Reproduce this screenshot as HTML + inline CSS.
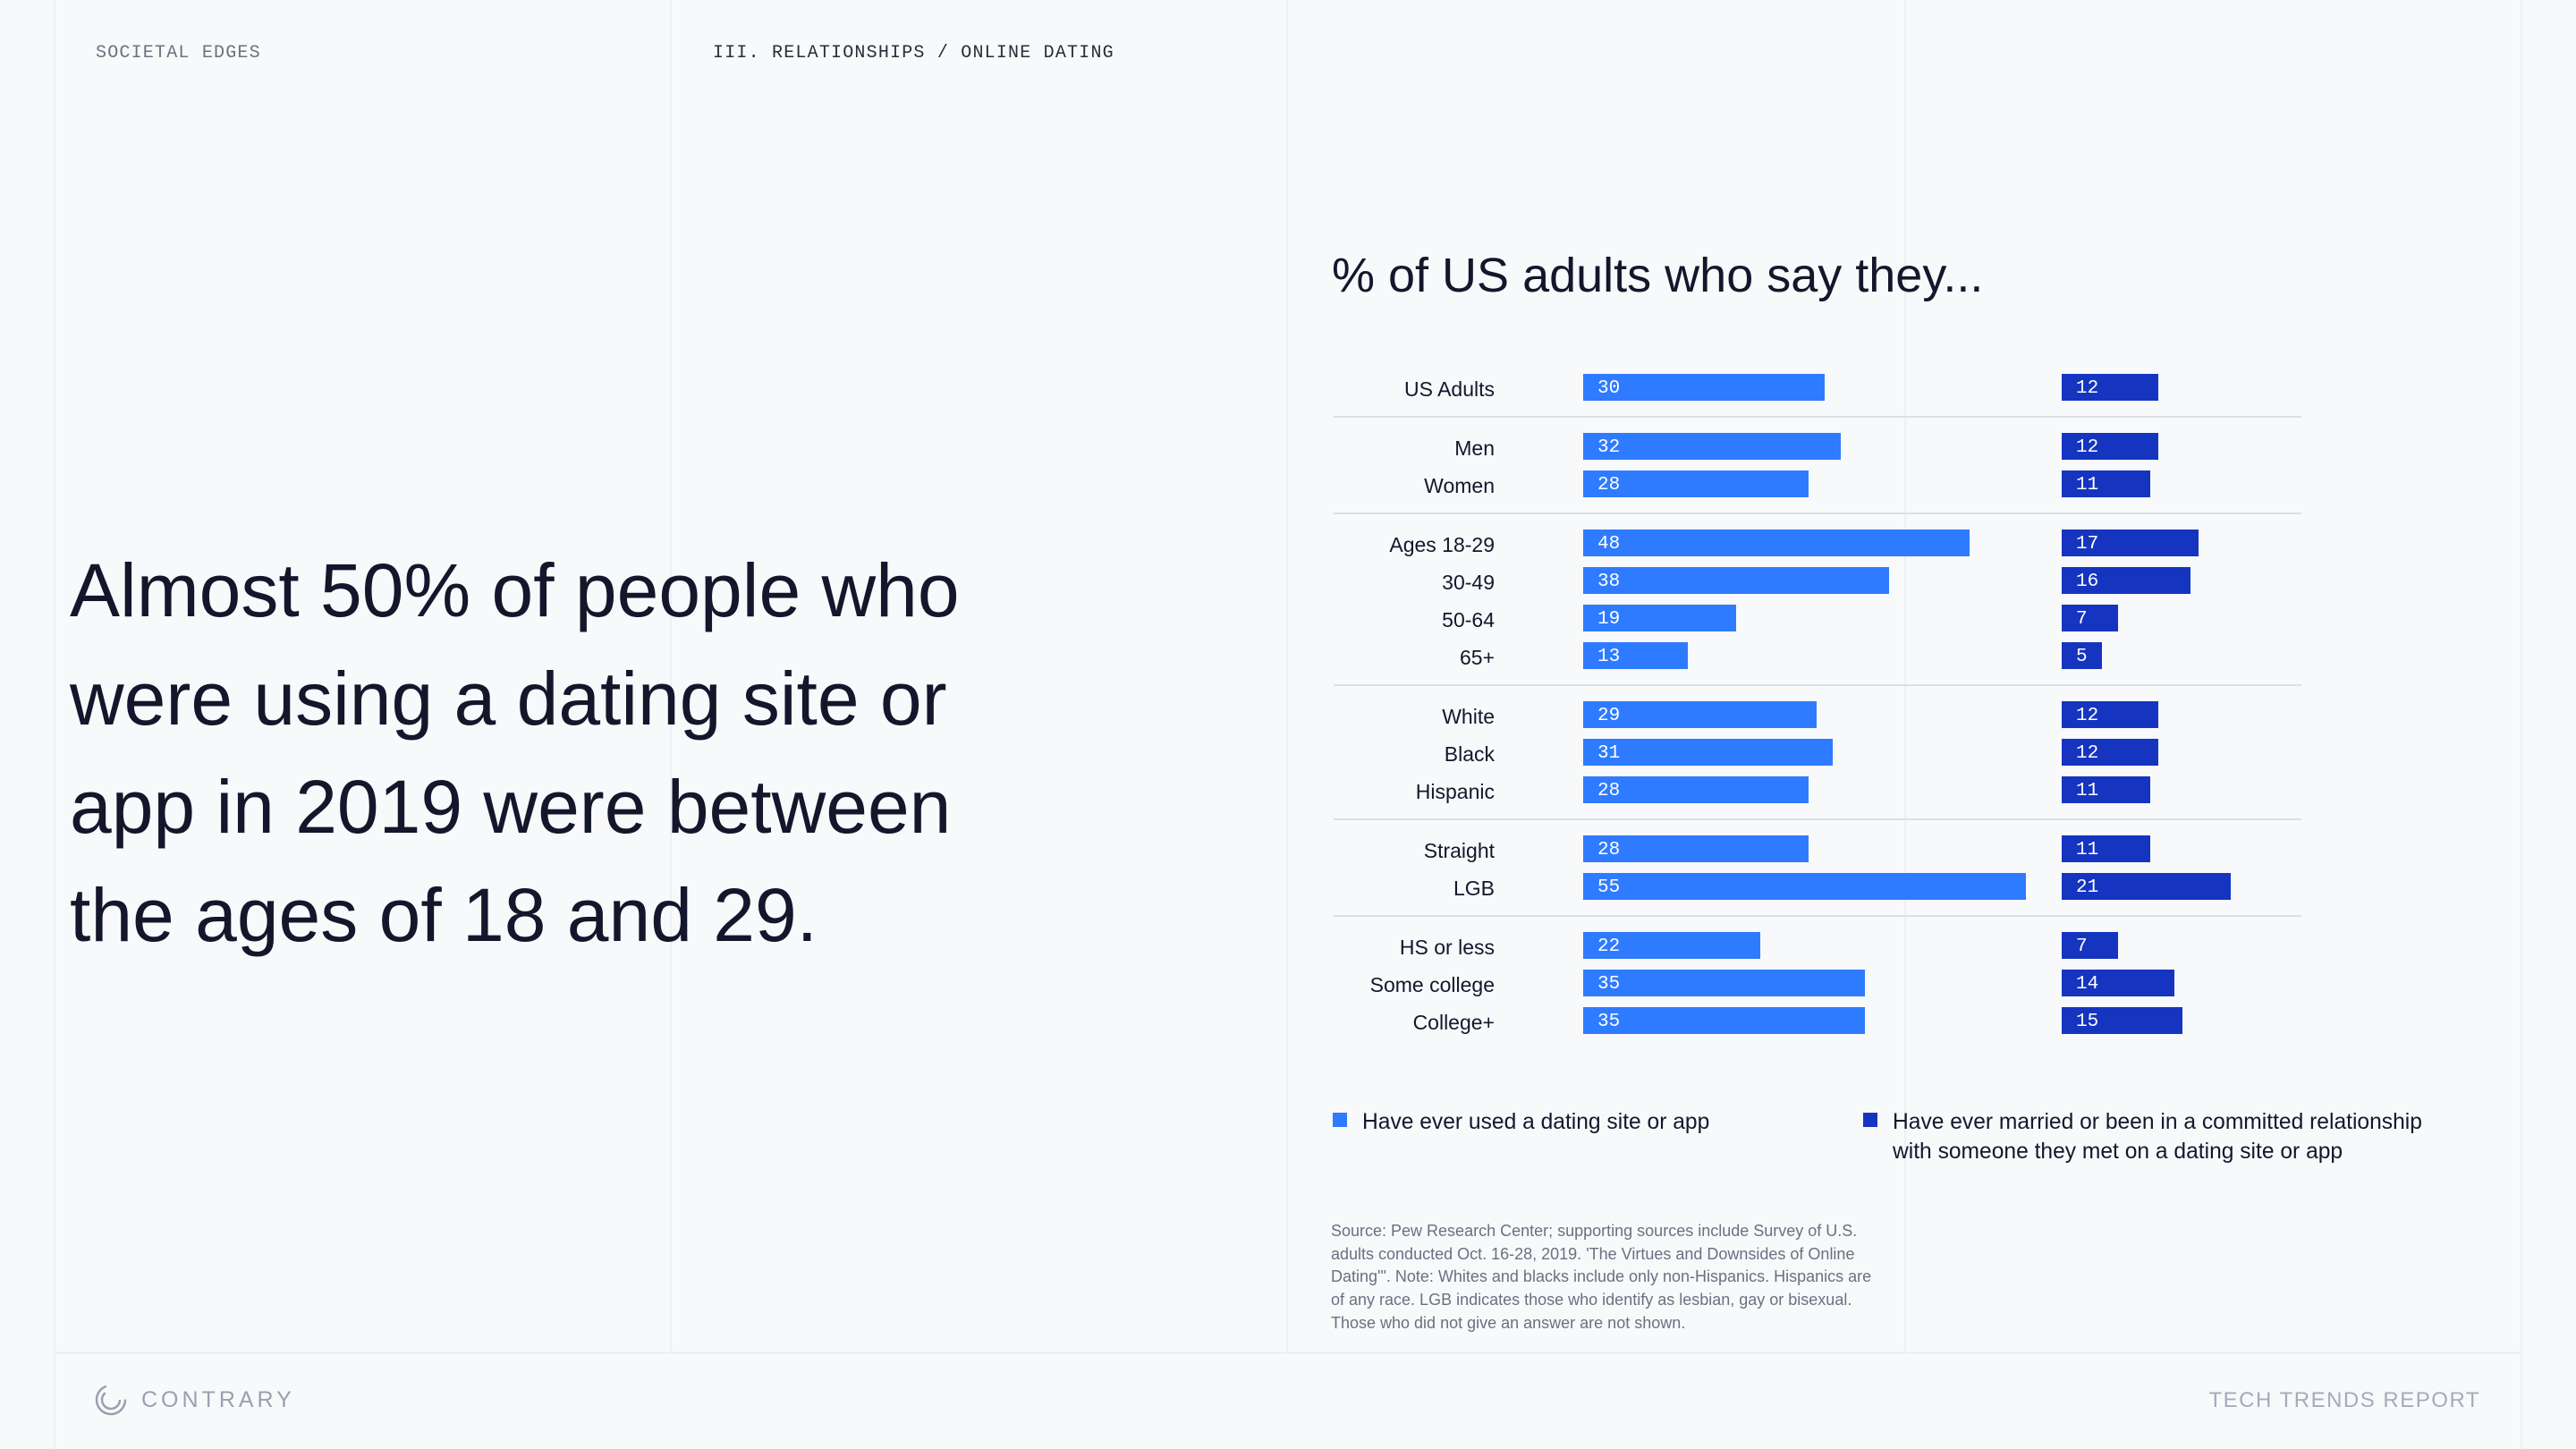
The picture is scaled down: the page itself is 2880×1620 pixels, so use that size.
<!DOCTYPE html>
<html><head><meta charset="utf-8">
<style>
html,body{margin:0;padding:0;}
body{width:2880px;height:1620px;background:#f8f9fb;position:relative;overflow:hidden;font-family:"Liberation Sans",sans-serif;color:#161a2e;}
.vl{position:absolute;top:0;height:1512px;width:2px;background:#eff0f3;}
.abs{position:absolute;white-space:nowrap;}
</style></head>
<body>
<div class="vl" style="left:60px;height:1620px"></div>
<div class="vl" style="left:749px"></div>
<div class="vl" style="left:1438px"></div>
<div class="vl" style="left:2129px"></div>
<div class="vl" style="left:2818px;height:1620px"></div>
<div class="abs" style="left:61px;top:1511px;width:2758px;height:3px;background:#eff0f3"></div>

<div class="abs" style="left:107px;top:48px;font-family:'Liberation Mono',monospace;font-size:20px;letter-spacing:1.2px;color:#6b7180;">SOCIETAL EDGES</div>
<div class="abs" style="left:797px;top:48px;font-family:'Liberation Mono',monospace;font-size:20px;letter-spacing:1.2px;color:#2a2d3a;">III. RELATIONSHIPS / ONLINE DATING</div>

<div class="abs" style="left:78px;top:600px;font-size:84px;line-height:121px;color:#14172b;white-space:normal;width:1200px;">Almost 50% of people who<br>were using a dating site or<br>app in 2019 were between<br>the ages of 18 and 29.</div>

<div class="abs" style="left:1489px;top:277px;font-size:54px;color:#14172b;">% of US adults who say they...</div>

<svg id="chart" style="position:absolute;left:0;top:0" width="2880" height="1620"></svg>

<div class="abs" style="left:1490px;top:1244px;">
  <div style="position:absolute;left:0;top:0;width:16px;height:16px;background:#2f7bff"></div>
  <div style="position:absolute;left:33px;top:-6px;font-size:24.6px;line-height:33px;color:#14172b">Have ever used a dating site or app</div>
</div>
<div class="abs" style="left:2083px;top:1244px;">
  <div style="position:absolute;left:0;top:0;width:16px;height:16px;background:#1535c0"></div>
  <div style="position:absolute;left:33px;top:-6px;font-size:24.6px;line-height:33px;color:#14172b">Have ever married or been in a committed relationship<br>with someone they met on a dating site or app</div>
</div>

<div class="abs" style="left:1488px;top:1364px;font-size:18px;line-height:25.7px;color:#6b7080;">Source: Pew Research Center; supporting sources include Survey of U.S.<br>adults conducted Oct. 16-28, 2019. 'The Virtues and Downsides of Online<br>Dating'". Note: Whites and blacks include only non-Hispanics. Hispanics are<br>of any race. LGB indicates those who identify as lesbian, gay or bisexual.<br>Those who did not give an answer are not shown.</div>

<svg class="abs" style="left:105px;top:1546px" width="38" height="38" viewBox="0 0 38 38">
  <circle cx="19" cy="19" r="16" fill="none" stroke="#9aa0ae" stroke-width="2.5" stroke-dasharray="70 30"/>
  <circle cx="19" cy="19" r="10" fill="none" stroke="#9aa0ae" stroke-width="2.5" stroke-dasharray="40 23"/>
</svg>
<div class="abs" style="left:158px;top:1551px;font-size:25px;letter-spacing:4px;color:#9aa0ae;">CONTRARY</div>
<div class="abs" style="right:107px;top:1552px;font-size:24px;letter-spacing:1.5px;color:#a6abb8;">TECH TRENDS REPORT</div>

<script>
const categories = ["US Adults","Men","Women","Ages 18-29","30-49","50-64","65+","White","Black","Hispanic","Straight","LGB","HS or less","Some college","College+"];
const groupIds = [0,1,1,2,2,2,2,3,3,3,4,4,5,5,5];
const everUsed = [30,32,28,48,38,19,13,29,31,28,28,55,22,35,35];
const married = [12,12,11,17,16,7,5,12,12,11,11,21,7,14,15];

const NS = "http://www.w3.org/2000/svg";
const svg = document.getElementById("chart");
const x1 = v => v * 9;
const x1Start = 1770, x2Start = 2305;
const barH = 30, rowPitch = 42, groupPitch = 66, firstTop = 418;

function mk(tag, attrs){ const e=document.createElementNS(NS,tag); for(const k in attrs) e.setAttribute(k,attrs[k]); svg.appendChild(e); return e; }

let y = firstTop;
for (let i = 0; i < categories.length; i++) {
  if (i > 0) {
    if (groupIds[i] !== groupIds[i-1]) {
      const sep = mk("rect",{x:1491,y:y+barH+17,width:1082,height:2,fill:"#dcdfe6"});
      
      
      y += groupPitch;
    } else {
      y += rowPitch;
    }
  }
  const lab = mk("text",{x:1671,y:y+25,"text-anchor":"end","font-family":"Liberation Sans, sans-serif","font-size":23,fill:"#14172b"});
  lab.textContent = categories[i];
  
  

  const b1 = mk("rect",{x:x1Start,y:y,width:x1(everUsed[i]),height:barH,fill:"#2f7bff"});
  
  
  const t1 = mk("text",{x:x1Start+16,y:y+21,"font-family":"Liberation Mono, monospace","font-size":21,fill:"#ffffff"});
  t1.textContent = everUsed[i];
  
  

  const b2 = mk("rect",{x:x2Start,y:y,width:x1(married[i]),height:barH,fill:"#1535c0"});
  
  
  const t2 = mk("text",{x:x2Start+16,y:y+21,"font-family":"Liberation Mono, monospace","font-size":21,fill:"#ffffff"});
  t2.textContent = married[i];
  
  
}
</script>
</body></html>
